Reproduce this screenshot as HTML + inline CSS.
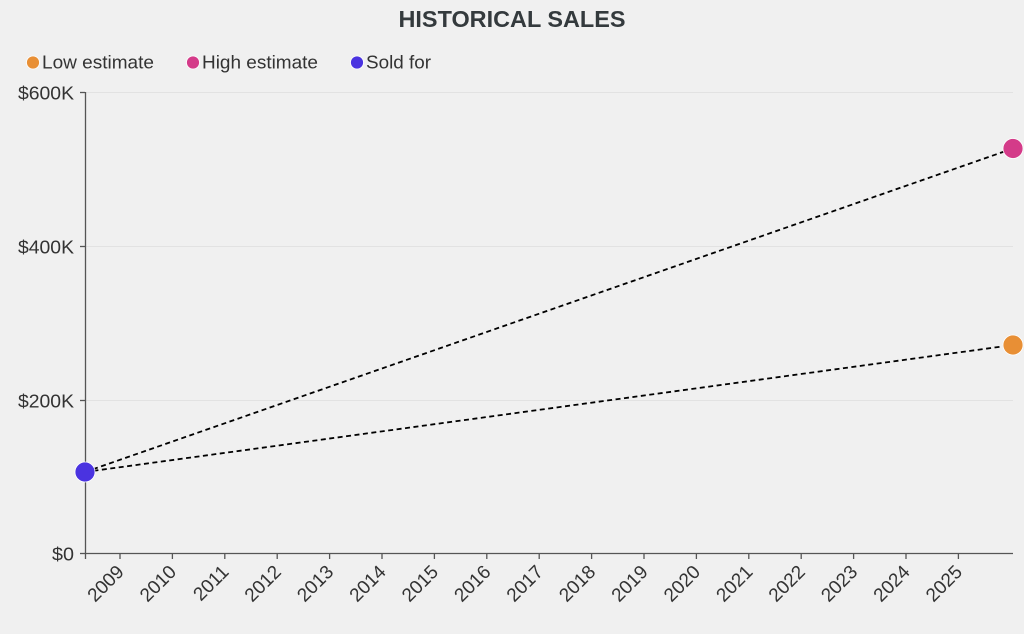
<!DOCTYPE html>
<html><head><meta charset="utf-8"><style>
html,body{margin:0;padding:0;background:#f0f0f0;}
svg{display:block;font-family:"Liberation Sans",sans-serif;}
</style></head><body>
<svg width="1024" height="634" viewBox="0 0 1024 634" xmlns="http://www.w3.org/2000/svg">
<rect width="1024" height="634" fill="#f0f0f0"/>
<text x="512" y="27" text-anchor="middle" font-size="23" font-weight="bold" fill="#343a3d" textLength="227" lengthAdjust="spacingAndGlyphs">HISTORICAL SALES</text>
<g font-size="18" fill="#333">
<circle cx="33" cy="62.5" r="6.5" fill="#e88f35" stroke="#fff" stroke-width="0.8"/>
<text x="42" y="68.5" textLength="112" lengthAdjust="spacingAndGlyphs">Low estimate</text>
<circle cx="193" cy="62.5" r="6.5" fill="#d43b89" stroke="#fff" stroke-width="0.8"/>
<text x="202" y="68.5" textLength="116" lengthAdjust="spacingAndGlyphs">High estimate</text>
<circle cx="357" cy="62.5" r="6.5" fill="#4a33e0" stroke="#fff" stroke-width="0.8"/>
<text x="366" y="68.5" textLength="65" lengthAdjust="spacingAndGlyphs">Sold for</text>
</g>
<g stroke="#e2e2e2" stroke-width="1">
<line x1="86" y1="92.5" x2="1013" y2="92.5"/>
<line x1="86" y1="246.5" x2="1013" y2="246.5"/>
<line x1="86" y1="400.5" x2="1013" y2="400.5"/>
</g>
<g stroke="#555" stroke-width="1.3">
<line x1="85.5" y1="92" x2="85.5" y2="559"/>
<line x1="85" y1="553.5" x2="1013" y2="553.5"/>
<line x1="80" y1="92.5" x2="85" y2="92.5"/>
<line x1="80" y1="246.5" x2="85" y2="246.5"/>
<line x1="80" y1="400.5" x2="85" y2="400.5"/>
<line x1="80" y1="553.5" x2="85" y2="553.5"/>
<line x1="120" y1="553.5" x2="120" y2="559"/>
<line x1="172.4" y1="553.5" x2="172.4" y2="559"/>
<line x1="224.8" y1="553.5" x2="224.8" y2="559"/>
<line x1="277.2" y1="553.5" x2="277.2" y2="559"/>
<line x1="329.6" y1="553.5" x2="329.6" y2="559"/>
<line x1="382" y1="553.5" x2="382" y2="559"/>
<line x1="434.4" y1="553.5" x2="434.4" y2="559"/>
<line x1="486.8" y1="553.5" x2="486.8" y2="559"/>
<line x1="539.2" y1="553.5" x2="539.2" y2="559"/>
<line x1="591.6" y1="553.5" x2="591.6" y2="559"/>
<line x1="644" y1="553.5" x2="644" y2="559"/>
<line x1="696.4" y1="553.5" x2="696.4" y2="559"/>
<line x1="748.8" y1="553.5" x2="748.8" y2="559"/>
<line x1="801.2" y1="553.5" x2="801.2" y2="559"/>
<line x1="853.6" y1="553.5" x2="853.6" y2="559"/>
<line x1="906" y1="553.5" x2="906" y2="559"/>
<line x1="958.4" y1="553.5" x2="958.4" y2="559"/>
</g>
<g font-size="18" fill="#333" text-anchor="end">
<text x="74" y="99.5" textLength="56" lengthAdjust="spacingAndGlyphs">$600K</text>
<text x="74" y="253.5" textLength="56" lengthAdjust="spacingAndGlyphs">$400K</text>
<text x="74" y="407.5" textLength="56" lengthAdjust="spacingAndGlyphs">$200K</text>
<text x="74" y="560.5" textLength="22" lengthAdjust="spacingAndGlyphs">$0</text>
</g>
<g font-size="19" fill="#333" text-anchor="end">
<text transform="translate(125,573) rotate(-45)">2009</text>
<text transform="translate(177.4,573) rotate(-45)">2010</text>
<text transform="translate(229.8,573) rotate(-45)">2011</text>
<text transform="translate(282.2,573) rotate(-45)">2012</text>
<text transform="translate(334.6,573) rotate(-45)">2013</text>
<text transform="translate(387,573) rotate(-45)">2014</text>
<text transform="translate(439.4,573) rotate(-45)">2015</text>
<text transform="translate(491.8,573) rotate(-45)">2016</text>
<text transform="translate(544.2,573) rotate(-45)">2017</text>
<text transform="translate(596.6,573) rotate(-45)">2018</text>
<text transform="translate(649,573) rotate(-45)">2019</text>
<text transform="translate(701.4,573) rotate(-45)">2020</text>
<text transform="translate(753.8,573) rotate(-45)">2021</text>
<text transform="translate(806.2,573) rotate(-45)">2022</text>
<text transform="translate(858.6,573) rotate(-45)">2023</text>
<text transform="translate(911,573) rotate(-45)">2024</text>
<text transform="translate(963.4,573) rotate(-45)">2025</text>
</g>
<g stroke="#000" stroke-width="1.8" stroke-dasharray="5 3.5" fill="none">
<line x1="85" y1="472" x2="1013" y2="148.5"/>
<line x1="85" y1="472" x2="1013" y2="345"/>
</g>
<circle cx="1013" cy="148.5" r="10" fill="#d43b89" stroke="#fff" stroke-width="0.8"/>
<circle cx="1013" cy="345" r="10" fill="#e88f35" stroke="#fff" stroke-width="0.8"/>
<circle cx="85" cy="472" r="10" fill="#4a33e0" stroke="#fff" stroke-width="0.8"/>
</svg>
</body></html>
